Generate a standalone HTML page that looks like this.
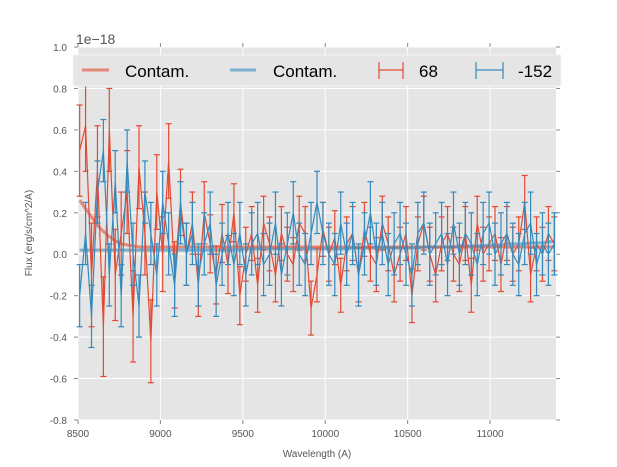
<!DOCTYPE html>
<html><head><meta charset="utf-8"><style>
html,body{margin:0;padding:0;background:#fff;}
svg{display:block;font-family:"Liberation Sans","DejaVu Sans",sans-serif;}
</style></head><body>
<svg id="chart" width="617" height="467">
<rect x="78" y="47" width="478" height="373" fill="#E5E5E5"/>
<g id="grid"></g>
<g id="ticks"></g>
<g id="series"></g>
<text x="76" y="44" font-size="14" fill="#555">1e−18</text>
<text x="317" y="457" font-size="10" fill="#555" text-anchor="middle">Wavelength (A)</text>
<text transform="translate(32,233) rotate(-90)" font-size="10" fill="#555" text-anchor="middle">Flux (erg/s/cm^2/A)</text>
<g>
<rect x="73" y="55" width="488" height="31" fill="#E5E5E5" stroke="#f4f4f4" stroke-width="1"/>
<line x1="82" y1="70" x2="109" y2="70" stroke="#E24A33" stroke-opacity="0.6" stroke-width="3"/>
<text x="125" y="77" font-size="17" fill="#000">Contam.</text>
<line x1="230" y1="70" x2="256" y2="70" stroke="#348ABD" stroke-opacity="0.6" stroke-width="3"/>
<text x="273" y="77" font-size="17" fill="#000">Contam.</text>
<g stroke="#E24A33" stroke-width="1.2"><line x1="379" y1="70" x2="403" y2="70"/><line x1="379" y1="62" x2="379" y2="79"/><line x1="403" y1="62" x2="403" y2="79"/></g>
<text x="419" y="77" font-size="17" fill="#000">68</text>
<g stroke="#348ABD" stroke-width="1.2"><line x1="476" y1="70" x2="503" y2="70"/><line x1="476" y1="62" x2="476" y2="79"/><line x1="503" y1="62" x2="503" y2="79"/></g>
<text x="518" y="77" font-size="17" fill="#000">-152</text>
</g>
</svg>
<script>
const xTicks=[8500,9000,9500,10000,10500,11000];
const yTicks=[-0.8,-0.6,-0.4,-0.2,0.0,0.2,0.4,0.6,0.8,1.0];
const wavelengths=[];for(let w=8510;w<=11390;w+=36)wavelengths.push(w);
const redFlux=[0.5,0.62,-0.1,0.4,-0.35,0.6,-0.1,0.1,0.3,-0.3,0.42,0.1,-0.42,0.3,0.0,0.45,-0.1,0.25,0.0,0.15,-0.15,0.2,0.05,-0.1,0.1,-0.05,0.2,-0.2,0.0,0.1,-0.15,0.15,0.05,-0.1,0.1,0.0,-0.05,0.15,0.1,-0.26,-0.1,0.12,0.0,0.08,-0.15,0.05,0.1,-0.1,0.12,0.0,-0.05,0.15,0.05,-0.1,0.0,0.1,-0.2,0.05,0.15,0.0,-0.1,0.05,0.1,0.0,-0.05,0.1,-0.15,0.15,0.0,0.05,0.1,-0.05,0.1,0.0,0.05,0.25,-0.1,0.05,0.0,0.1,0.05];
const redErr=[0.22,0.22,0.25,0.22,0.24,0.2,0.22,0.2,0.2,0.22,0.2,0.2,0.2,0.18,0.18,0.18,0.16,0.16,0.15,0.15,0.15,0.15,0.14,0.14,0.14,0.14,0.14,0.14,0.13,0.13,0.13,0.13,0.13,0.13,0.13,0.13,0.13,0.13,0.13,0.13,0.13,0.13,0.13,0.13,0.13,0.13,0.13,0.13,0.13,0.13,0.13,0.13,0.13,0.13,0.13,0.13,0.13,0.13,0.13,0.13,0.13,0.13,0.13,0.13,0.13,0.13,0.13,0.13,0.13,0.13,0.13,0.13,0.13,0.13,0.13,0.13,0.13,0.13,0.13,0.13,0.13];
const blueFlux=[-0.2,0.1,-0.3,0.3,0.5,-0.1,0.35,-0.2,0.45,0.0,-0.25,0.3,0.1,-0.1,0.25,0.05,-0.15,0.2,0.0,0.1,-0.1,0.05,0.15,-0.15,0.0,0.1,-0.05,0.1,-0.1,0.05,0.1,-0.05,0.0,0.15,-0.1,0.05,0.2,0.0,-0.05,0.1,0.25,0.1,0.0,-0.05,0.15,0.0,0.1,-0.1,0.05,0.2,0.0,0.1,-0.05,0.05,0.1,0.0,-0.1,0.1,0.15,0.0,0.05,0.1,-0.05,0.15,0.0,0.1,0.05,-0.05,0.1,0.15,0.0,0.05,0.1,0.0,-0.05,0.1,0.15,-0.05,0.05,0.0,0.05];
const blueErr=Array.from(blueFlux,()=>0.15);
const redContam=[0.26,0.22,0.18,0.14,0.11,0.085,0.065,0.05,0.045,0.04,0.035,0.035,0.035,0.035,0.035,0.035,0.035,0.035,0.035,0.035,0.035,0.035,0.035,0.035,0.035,0.035,0.035,0.035,0.035,0.035,0.035,0.035,0.035,0.035,0.035,0.035,0.035,0.035,0.035,0.035,0.035,0.035,0.035,0.035,0.035,0.035,0.035,0.035,0.035,0.035,0.035,0.035,0.035,0.035,0.035,0.035,0.035,0.035,0.035,0.035,0.035,0.035,0.035,0.035,0.035,0.035,0.035,0.035,0.035,0.035,0.035,0.035,0.035,0.035,0.035,0.035,0.035,0.035,0.035,0.035,0.035];
const blueContam=[0.02,0.02,0.02,0.02,0.02,0.02,0.02,0.02,0.02,0.02,0.02,0.02,0.02,0.02,0.02,0.02,0.02,0.02,0.02,0.02,0.02,0.02,0.02,0.02,0.02,0.02,0.02,0.02,0.025,0.025,0.025,0.025,0.025,0.025,0.025,0.025,0.025,0.025,0.025,0.025,0.025,0.025,0.025,0.025,0.025,0.025,0.03,0.03,0.03,0.03,0.03,0.03,0.03,0.03,0.03,0.03,0.03,0.03,0.035,0.035,0.035,0.035,0.035,0.035,0.04,0.04,0.04,0.04,0.04,0.045,0.045,0.045,0.05,0.05,0.05,0.05,0.055,0.055,0.055,0.06,0.06];

const NS='http://www.w3.org/2000/svg';
const X=v=>78+(v-8500)*(478/2900);
const Y=v=>47+(1.0-v)*(373/1.8);
function mk(tag,attrs,parent){const e=document.createElementNS(NS,tag);for(const k in attrs)e.setAttribute(k,attrs[k]);parent.appendChild(e);return e;}
const grid=document.getElementById('grid'),ticks=document.getElementById('ticks'),ser=document.getElementById('series');
xTicks.forEach(t=>{
 const gl=mk('line',{x1:X(t),x2:X(t),y1:47,y2:420,stroke:'#fff','stroke-width':1},grid);
 
 
 mk('line',{x1:X(t),x2:X(t),y1:420,y2:424,stroke:'#888'},ticks);
 mk('line',{x1:X(t),x2:X(t),y1:47,y2:43,stroke:'#888'},ticks);
 const tx=mk('text',{x:X(t),y:437,'font-size':10,fill:'#555','text-anchor':'middle'},ticks);
 tx.textContent=t;
 
 
});
yTicks.forEach(t=>{
 const gl=mk('line',{x1:78,x2:556,y1:Y(t),y2:Y(t),stroke:'#fff','stroke-width':1},grid);
 
 
 mk('line',{x1:74,x2:78,y1:Y(t),y2:Y(t),stroke:'#888'},ticks);
 mk('line',{x1:556,x2:560,y1:Y(t),y2:Y(t),stroke:'#888'},ticks);
 const tx=mk('text',{x:67,y:Y(t)+4,'font-size':10,fill:'#555','text-anchor':'end'},ticks);
 tx.textContent=t.toFixed(1);
 
 
});
function contam(vals,color,name){
 const p=mk('polyline',{points:vals.map((v,i)=>X(wavelengths[i])+','+Y(v)).join(' '),fill:'none',stroke:color,'stroke-opacity':0.6,'stroke-width':3},ser);
 
 
}
function errSeries(vals,errs,color,name){
 const g=mk('g',{stroke:color,'stroke-width':1.2,fill:'none'},ser);
 
 
 vals.forEach((v,i)=>{const x=X(wavelengths[i]);
  mk('line',{x1:x,x2:x,y1:Y(v+errs[i]),y2:Y(v-errs[i])},g);
  mk('line',{x1:x-3,x2:x+3,y1:Y(v+errs[i]),y2:Y(v+errs[i])},g);
  mk('line',{x1:x-3,x2:x+3,y1:Y(v-errs[i]),y2:Y(v-errs[i])},g);});
 mk('polyline',{points:vals.map((v,i)=>X(wavelengths[i])+','+Y(v)).join(' ')},g);
}
contam(redContam,'#E24A33','contam-red-line');
contam(blueContam,'#348ABD','contam-blue-line');
errSeries(redFlux,redErr,'#E24A33','series-68');
errSeries(blueFlux,blueErr,'#348ABD','series-152');
</script>
</body></html>
